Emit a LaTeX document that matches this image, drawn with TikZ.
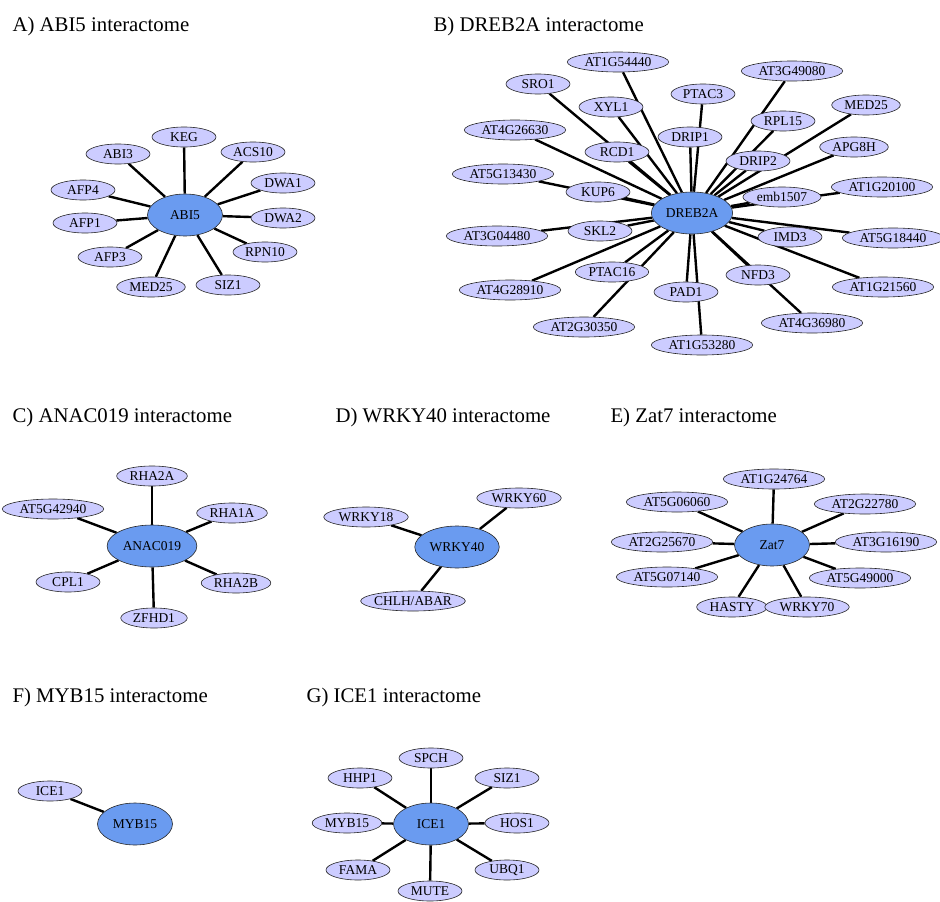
\documentclass[tikz,border=0pt]{standalone}
\usepackage{fontspec}
\setmainfont{Liberation Serif}
\usetikzlibrary{shapes.geometric,backgrounds}
\definecolor{protfill}{HTML}{CCCCFF}
\definecolor{hubfill}{HTML}{6A9BF0}
\newcommand{\lblfont}{\fontsize{13.5}{15}\selectfont}
\newcommand{\ttlfont}{\fontsize{20.8}{24}\selectfont}
\tikzset{
  prot/.style={ellipse, draw=black!85, line width=0.6pt, fill=protfill, font=\lblfont,
    inner xsep=2.5pt, inner ysep=0.5pt, minimum width=64pt, minimum height=20pt},
  hub/.style={prot, fill=hubfill, minimum width=75pt, minimum height=42pt},
  link/.style={line width=2.4pt},
  panel/.style={anchor=base west, font=\ttlfont}
}

\begin{document}
\begin{tikzpicture}[x=1pt, y=-1pt]
			%%%%% START %%%%%
			\useasboundingbox (0, 0) rectangle (940, 902);
			
			% titles
			\node[panel] (ta) at (9, 31) {A) ABI5 interactome};
			\node[panel] (tb) at (430, 31) {B) DREB2A interactome};
			\node[panel] (tc) at (9, 422) {C) ANAC019 interactome};
			\node[panel] (td) at (332, 422) {D) WRKY40 interactome};
			\node[panel] (te) at (607, 422) {E) Zat7 interactome};
			\node[panel] (tf) at (9, 702) {F) MYB15 interactome};
			\node[panel] (tg) at (303, 702) {G) ICE1 interactome};
			
			% A) ABI5
			\node[hub] (abi5) at (185, 215) {ABI5};
			\node[prot] (a-keg) at (184, 137) {KEG};
			\node[prot] (a-abi3) at (118, 154) {ABI3};
			\node[prot] (a-acs10) at (253, 152) {ACS10};
			\node[prot] (a-afp4) at (83, 190) {AFP4};
			\node[prot] (a-dwa1) at (283, 183) {DWA1};
			\node[prot] (a-afp1) at (85, 223) {AFP1};
			\node[prot] (a-dwa2) at (283, 218) {DWA2};
			\node[prot] (a-afp3) at (110, 257) {AFP3};
			\node[prot] (a-rpn10) at (265, 252) {RPN10};
			\node[prot] (a-med25) at (151, 287) {MED25};
			\node[prot] (a-siz1) at (228, 285) {SIZ1};
			
			% B) DREB2A
			\node[hub] (dreb2a) at (692, 213) {DREB2A};
			\node[prot] (b-at1g54440) at (618, 62) {AT1G54440};
			\node[prot] (b-sro1) at (538, 84) {SRO1};
			\node[prot] (b-at3g49080) at (792, 71) {AT3G49080};
			\node[prot] (b-ptac3) at (703, 94) {PTAC3};
			\node[prot] (b-xyl1) at (611, 107) {XYL1};
			\node[prot] (b-med25) at (866, 105) {MED25};
			\node[prot] (b-rpl15) at (783, 121) {RPL15};
			\node[prot] (b-at4g26630) at (515, 130) {AT4G26630};
			\node[prot] (b-drip1) at (690, 137) {DRIP1};
			\node[prot] (b-rcd1) at (617, 152) {RCD1};
			\node[prot] (b-apg8h) at (854, 147) {APG8H};
			\node[prot] (b-drip2) at (758, 161) {DRIP2};
			\node[prot] (b-at5g13430) at (503, 174) {AT5G13430};
			\node[prot] (b-kup6) at (598, 192) {KUP6};
			\node[prot] (b-at1g20100) at (882, 187) {AT1G20100};
			\node[prot] (b-emb1507) at (782, 197) {emb1507};
			\node[prot] (b-skl2) at (600, 231) {SKL2};
			\node[prot] (b-at3g04480) at (497, 236) {AT3G04480};
			\node[prot] (b-imd3) at (790, 237) {IMD3};
			\node[prot] (b-at5g18440) at (893, 238) {AT5G18440};
			\node[prot] (b-ptac16) at (612, 272) {PTAC16};
			\node[prot] (b-nfd3) at (758, 275) {NFD3};
			\node[prot] (b-at1g21560) at (883, 287) {AT1G21560};
			\node[prot] (b-at4g28910) at (510, 290) {AT4G28910};
			\node[prot] (b-pad1) at (686, 292) {PAD1};
			\node[prot] (b-at4g36980) at (812, 323) {AT4G36980};
			\node[prot] (b-at2g30350) at (584, 327) {AT2G30350};
			\node[prot] (b-at1g53280) at (702, 345) {AT1G53280};
			
			% C) ANAC019
			\node[hub] (anac019) at (152, 546) {ANAC019};
			\node[prot] (c-rha2a) at (152, 476) {RHA2A};
			\node[prot] (c-at5g42940) at (53, 509) {AT5G42940};
			\node[prot] (c-rha1a) at (232, 513) {RHA1A};
			\node[prot] (c-cpl1) at (68, 582) {CPL1};
			\node[prot] (c-rha2b) at (236, 583) {RHA2B};
			\node[prot] (c-zfhd1) at (154, 618) {ZFHD1};
			
			% D) WRKY40
			\node[hub] (wrky40) at (457, 547) {WRKY40};
			\node[prot] (d-wrky60) at (519, 498) {WRKY60};
			\node[prot] (d-wrky18) at (366, 517) {WRKY18};
			\node[prot, inner xsep=-2pt] (d-chlh) at (413, 601) {CHLH/ABAR};
			
			% E) Zat7
			\node[hub] (zat7) at (772, 545) {Zat7};
			\node[prot] (e-at1g24764) at (774, 479) {AT1G24764};
			\node[prot] (e-at5g06060) at (677, 502) {AT5G06060};
			\node[prot] (e-at2g22780) at (865, 504) {AT2G22780};
			\node[prot] (e-at2g25670) at (662, 542) {AT2G25670};
			\node[prot] (e-at3g16190) at (886, 542) {AT3G16190};
			\node[prot] (e-at5g07140) at (667, 577) {AT5G07140};
			\node[prot] (e-at5g49000) at (860, 578) {AT5G49000};
			\node[prot] (e-hasty) at (732, 607) {HASTY};
			\node[prot] (e-wrky70) at (807, 607) {WRKY70};
			
			% F) MYB15
			\node[hub] (myb15) at (135, 824) {MYB15};
			\node[prot] (f-ice1) at (50, 791) {ICE1};
			
			% G) ICE1
			\node[hub] (ice1) at (431, 824) {ICE1};
			\node[prot] (g-spch) at (431, 758) {SPCH};
			\node[prot] (g-hhp1) at (360, 778) {HHP1};
			\node[prot] (g-siz1) at (507, 778) {SIZ1};
			\node[prot] (g-myb15) at (347, 823) {MYB15};
			\node[prot] (g-hos1) at (517, 823) {HOS1};
			\node[prot] (g-fama) at (358, 870) {FAMA};
			\node[prot] (g-ubq1) at (507, 870) {UBQ1};
			\node[prot] (g-mute) at (430, 891) {MUTE};
			
			% edges, behind the ellipses
			\begin{pgfonlayer}{background}
			\foreach \n in {keg,abi3,acs10,afp4,dwa1,afp1,dwa2,afp3,rpn10,med25,siz1}
				\draw[link] (abi5) -- (a-\n);
			\foreach \n in {at1g54440,sro1,at3g49080,ptac3,xyl1,med25,rpl15,at4g26630,drip1,rcd1,apg8h,drip2,at5g13430,kup6,at1g20100,emb1507,skl2,at3g04480,imd3,at5g18440,ptac16,nfd3,at1g21560,at4g28910,pad1,at4g36980,at2g30350,at1g53280}
				\draw[link] (dreb2a) -- (b-\n);
			\foreach \n in {rha2a,at5g42940,rha1a,cpl1,rha2b,zfhd1}
				\draw[link] (anac019) -- (c-\n);
			\foreach \n in {wrky60,wrky18,chlh}
				\draw[link] (wrky40) -- (d-\n);
			\foreach \n in {at1g24764,at5g06060,at2g22780,at2g25670,at3g16190,at5g07140,at5g49000,hasty,wrky70}
				\draw[link] (zat7) -- (e-\n);
			\draw[link] (myb15) -- (f-ice1);
			\foreach \n in {spch,hhp1,siz1,myb15,hos1,fama,ubq1,mute}
				\draw[link] (ice1) -- (g-\n);
			\end{pgfonlayer}
			
			%%%%% END %%%%%
\end{tikzpicture}
\end{document}
